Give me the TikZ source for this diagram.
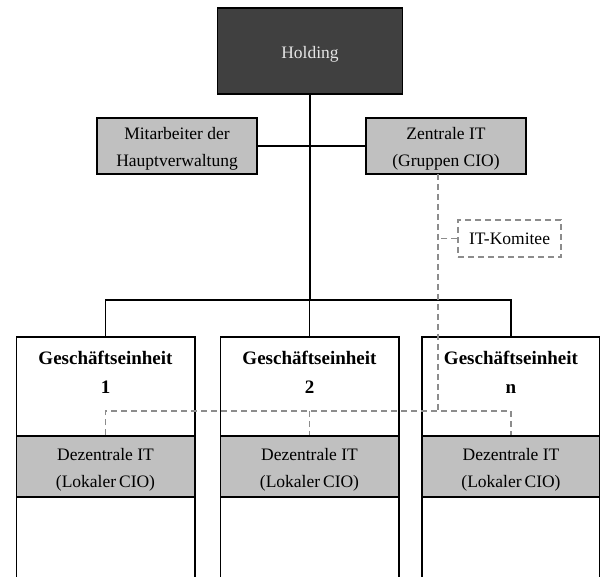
\documentclass[tikz,border=0pt]{standalone}
\usepackage{fontspec}
\setmainfont{Liberation Serif}
\usepackage{tikz}
\usepackage{xcolor}
\definecolor{holdgray}{HTML}{404040}
\definecolor{boxgray}{HTML}{C0C0C0}
\definecolor{linkgray}{HTML}{8C8C8C}
\newcommand{\boxstrut}{\rule{0pt}{18pt}}
\begin{document}
\begin{tikzpicture}[x=1pt,y=-1pt,font=\fontsize{17.5}{27}\selectfont,
  orgbox/.style={draw=black,line width=1.6pt,fill=boxgray,align=center,inner sep=0pt,minimum width=160pt,minimum height=56pt},
  unitframe/.style={inner sep=0pt,minimum width=178pt,minimum height=240pt},
  cioband/.style={orgbox,minimum width=178pt,minimum height=61pt},
  unittitle/.style={align=center,font=\fontsize{19}{29}\selectfont\bfseries},
  orgline/.style={line width=1.6pt},
  itlink/.style={draw=linkgray,line width=1.4pt,dash pattern=on 6pt off 4pt}]
\useasboundingbox (0,0) rectangle (600,577);
% oberste Ebene
\node[orgbox,fill=holdgray,text=white!90!black,minimum width=185pt,minimum height=86pt] (holding) at (310,51) {\boxstrut Holding};
\node[orgbox] (mitarbeiter) at (177,146) {\boxstrut Mitarbeiter der\\Hauptverwaltung};
\node[orgbox] (zentrale) at (446,146) {\boxstrut Zentrale IT\\(Gruppen CIO)};
\node[draw=linkgray,line width=1.4pt,dash pattern=on 6pt off 4pt,inner sep=0pt,minimum width=103pt,minimum height=37pt] (komitee) at (509.5,238.5) {IT-Komitee};
% Geschaeftseinheiten
\node[unitframe] (ge1) at (105.5,457) {};
\node[unitframe] (ge2) at (309.5,457) {};
\node[unitframe] (gen) at (511,457) {};
\node[unittitle] (ge1title) at (ge1.north) [below=11pt] {Geschäftseinheit\\1};
\node[unittitle] (ge2title) at (ge2.north) [below=11pt] {Geschäftseinheit\\2};
\node[unittitle] (gentitle) at (gen.north) [below=11pt] {Geschäftseinheit\\n};
\node[cioband] (dez1) at (105.5,466.5) {\boxstrut Dezentrale IT\\(Lokaler\,CIO)};
\node[cioband] (dez2) at (309.5,466.5) {\boxstrut Dezentrale IT\\(Lokaler\,CIO)};
\node[cioband] (dezn) at (511,466.5) {\boxstrut Dezentrale IT\\(Lokaler\,CIO)};
\coordinate (bar) at (310,300);
\coordinate (bus) at (310,411);
\coordinate (cio) at (438,174);
% Linien
\draw[orgline] (holding) -- (bar);
\draw[orgline] (mitarbeiter) -- (zentrale);
\draw[orgline] (ge1.north) |- (gen.north |- bar) -- (gen.north);
\draw[orgline] (ge2.north |- bar) -- (ge2.north);
\foreach \u in {ge1,ge2,gen}
  \draw[orgline] (\u.south west) |- (\u.north) -| (\u.south east);
\draw[itlink] (cio) -- (cio |- bus);
\draw[itlink] (komitee.west) -- (komitee.west -| cio);
\draw[itlink] (dez1.north) |- (dezn.north |- bus) -- (dezn.north);
\draw[itlink] (dez2.north |- bus) -- (dez2.north);
\end{tikzpicture}
\end{document}
